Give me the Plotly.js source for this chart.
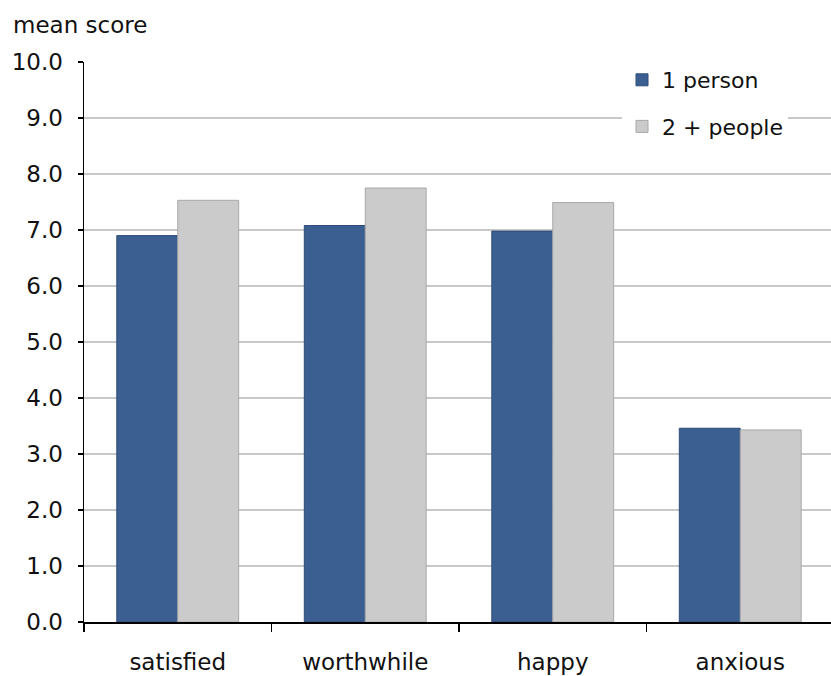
<!DOCTYPE html>
<html>
<head>
<meta charset="utf-8">
<script src="https://cdn.plot.ly/plotly-3.0.1.min.js"></script>
<style>html,body{margin:0;padding:0;background:#fff;}#chart{width:831px;height:676px;}</style>
</head>
<body>
<div id="chart"></div>
<script>
const categories = ["satisfied", "worthwhile", "happy", "anxious"];
const onePerson = [6.9, 7.08, 6.98, 3.46];
const twoPlusPeople = [7.53, 7.75, 7.49, 3.43];
const seriesNames = ["1 person", "2 + people"];
const yTickVals = [0, 1, 2, 3, 4, 5, 6, 7, 8, 9, 10];
const yTickText = ["0.0", "1.0", "2.0", "3.0", "4.0", "5.0", "6.0", "7.0", "8.0", "9.0", "10.0"];
const yAxisLabel = "mean score";

const W = 831, H = 676, L = 84, T = 62, B = 54;
const catW = 187.5;
const plotW = W - L;
const font = {family: "DejaVu Sans, Arial, sans-serif", size: 23, color: "#111"};
const legFont = {family: "DejaVu Sans, Arial, sans-serif", size: 22, color: "#111"};

const traces = [
  {type: "bar", name: seriesNames[0], x: categories, y: onePerson, legendgroup: "a",
   marker: {color: "#3c5f91", line: {color: "#2e4c78", width: 1}}},
  {type: "bar", name: seriesNames[1], x: categories, y: twoPlusPeople, legendgroup: "b",
   marker: {color: "#cbcbcb", line: {color: "#a8a8a8", width: 1}}}
];

const layout = {
  width: W, height: H,
  margin: {l: L, r: 0, t: T, b: B, pad: 0},
  paper_bgcolor: "#fff", plot_bgcolor: "#fff",
  font: font,
  barmode: "group", bargap: 0.35, bargroupgap: 0,
  showlegend: true,
  legend: {x: (622 - L) / plotW, xanchor: "left", y: 1 + 3 / (H - T - B), yanchor: "top",
           bgcolor: "#fff", borderwidth: 0, font: legFont, traceorder: "grouped", tracegroupgap: 15,
           itemwidth: 30},
  xaxis: {type: "category", range: [-0.5, -0.5 + plotW / catW], fixedrange: true,
          showline: true, linecolor: "#000", linewidth: 1.5,
          ticks: "outside", tickson: "boundaries", ticklen: 8, tickcolor: "#000", tickwidth: 1.5,
          showgrid: false, tickfont: font, ticklabelstandoff: 19},
  yaxis: {range: [0, 10], tickvals: yTickVals, ticktext: yTickText,
          showline: true, linecolor: "#000", linewidth: 1.5,
          ticks: "outside", ticklen: 5, tickcolor: "#000", tickwidth: 1.5,
          showgrid: true, gridcolor: "#c8c8c8", gridwidth: 1.5, zeroline: false,
          tickfont: font, ticklabelstandoff: 10},
  annotations: [{text: yAxisLabel, xref: "paper", yref: "paper", x: -(L - 11) / plotW, y: 1,
                 xanchor: "left", yanchor: "middle", yshift: 37, showarrow: false, font: font}]
};

Plotly.newPlot("chart", traces, layout, {staticPlot: true, displayModeBar: false});
</script>
</body>
</html>
